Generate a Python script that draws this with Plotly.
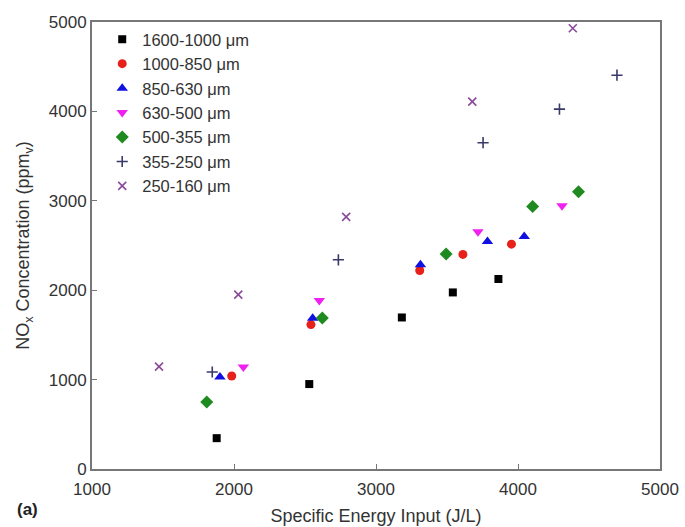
import plotly.graph_objects as go

names = ["1600-1000 μm", "1000-850 μm", "850-630 μm", "630-500 μm",
         "500-355 μm", "355-250 μm", "250-160 μm"]

x_1600_1000 = [1878, 2530, 3182, 3541, 3862]
y_1600_1000 = [345, 950, 1695, 1975, 2125]
x_1000_850 = [1984, 2542, 3308, 3612, 3954]
y_1000_850 = [1040, 1615, 2220, 2400, 2515]
x_850_630 = [1901, 2554, 3313, 3785, 4044]
y_850_630 = [1030, 1685, 2285, 2545, 2600]
x_630_500 = [2066, 2601, 3718, 4310]
y_630_500 = [1140, 1885, 2655, 2945]
x_500_355 = [1808, 2622, 3494, 4103, 4426]
y_500_355 = [750, 1690, 2405, 2935, 3100]
x_355_250 = [1847, 2735, 3754, 4292, 4697]
y_355_250 = [1085, 2340, 3650, 4025, 4405]
x_250_160 = [1472, 2030, 2790, 3678, 4386]
y_250_160 = [1145, 1950, 2820, 4110, 4930]

xs = [x_1600_1000, x_1000_850, x_850_630, x_630_500, x_500_355, x_355_250, x_250_160]
ys = [y_1600_1000, y_1000_850, y_850_630, y_630_500, y_500_355, y_355_250, y_250_160]
symbols = ["square", "circle", "triangle-up", "triangle-down", "diamond", "cross-thin", "x-thin"]
colors = ["#000000", "#e8201a", "#1010e0", "#f020f0", "#1f8a1f", "#3a3a6a", "#8a4a9a"]
sizes = [8, 9, 10, 10, 10, 8, 8]

fig = go.Figure()
for n, x, y, s, c, sz in zip(names, xs, ys, symbols, colors, sizes):
    thin = s.endswith("thin")
    fig.add_trace(go.Scatter(
        x=x, y=y, mode="markers", name=n,
        marker=dict(symbol=s, color=c, size=sz,
                    line=dict(color=c, width=1.6 if thin else 0)),
    ))

font = "Liberation Sans, Arial, sans-serif"
axis_common = dict(showline=True, linecolor="#777777", linewidth=2, mirror=True,
                   ticks="inside", ticklen=5, tickcolor="#777777", tickwidth=1,
                   showgrid=False, zeroline=False, automargin=False,
                   tickfont=dict(family=font, size=17, color="#333333"))

fig.update_layout(
    width=685, height=527,
    margin=dict(l=92, r=25, t=22, b=58),
    plot_bgcolor="white", paper_bgcolor="white",
    font=dict(family=font, size=17, color="#333333"),
    showlegend=True,
    legend=dict(x=0.018, y=1.0, xanchor="left", yanchor="top",
                bgcolor="rgba(0,0,0,0)", font=dict(family=font, size=16.5, color="#333333"),
                tracegroupgap=0),
    xaxis=dict(range=[1000, 5000], tickvals=[1000, 2000, 3000, 4000, 5000],
               ticklabelstandoff=4,
               title=dict(text="Specific Energy Input (J/L)", standoff=11,
                          font=dict(family=font, size=18, color="#333333")),
               **axis_common),
    yaxis=dict(range=[0, 5000], tickvals=[0, 1000, 2000, 3000, 4000, 5000],
               title=dict(text="NO<sub>x</sub> Concentration (ppm<sub>v</sub>)", standoff=14,
                          font=dict(family=font, size=18, color="#333333")),
               **axis_common),
    annotations=[dict(text="<b>(a)</b>", xref="paper", yref="paper", x=-0.135, y=-0.09,
                      xanchor="left", yanchor="middle", showarrow=False,
                      font=dict(family=font, size=17, color="#222222"))],
)

fig.write_html("out.html")
